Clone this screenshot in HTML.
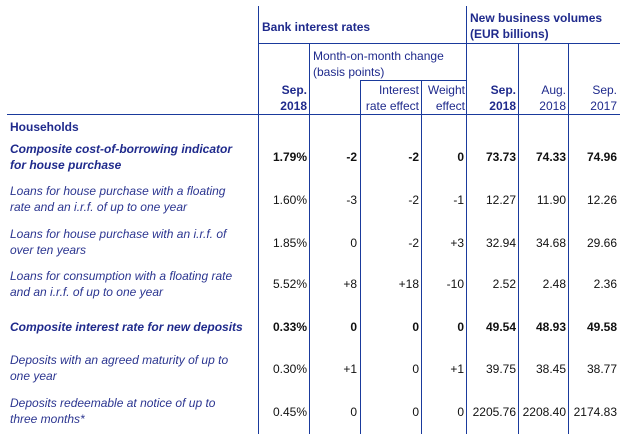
<!DOCTYPE html>
<html><head><style>
body{margin:0;width:620px;height:434px;background:#fff;position:relative;overflow:hidden;font-family:"Liberation Sans",Arial,sans-serif;font-size:12px}
.t{position:absolute;white-space:nowrap;line-height:16px}
.b{color:#1f2a8c}
.l{color:#2b3590;font-style:italic}
.h{color:#1f2a8c;font-weight:bold}
.n{position:absolute;text-align:right;color:#111;line-height:16px}
.v{position:absolute;top:6px;bottom:0;width:1px;background:#1a3a9c}
.hl{position:absolute;height:1px;background:#1a3a9c}
.r{text-align:right}
</style></head><body>
<div class="v" style="left:258px"></div>
<div class="v" style="left:309px;top:43px"></div>
<div class="v" style="left:360px;top:80px"></div>
<div class="v" style="left:421px;top:80px"></div>
<div class="v" style="left:466px"></div>
<div class="v" style="left:518px;top:43px"></div>
<div class="v" style="left:568px;top:43px"></div>
<div class="hl" style="left:258px;width:362px;top:43px"></div>
<div class="hl" style="left:360px;width:106px;top:80px"></div>
<div class="hl" style="left:7px;width:613px;top:114px"></div>

<div class="t h" style="left:262px;top:19px">Bank interest rates</div>
<div class="t h" style="left:470px;top:10px">New business volumes<br>(EUR billions)</div>
<div class="t b" style="left:313px;top:48px">Month-on-month change<br>(basis points)</div>
<div class="t h r" style="left:260px;width:47px;top:82px">Sep.<br>2018</div>
<div class="t b r" style="left:360px;width:59px;top:82px">Interest<br>rate effect</div>
<div class="t b r" style="left:421px;width:44px;top:82px">Weight<br>effect</div>
<div class="t h r" style="left:466px;width:50px;top:82px">Sep.<br>2018</div>
<div class="t b r" style="left:518px;width:48px;top:82px">Aug.<br>2018</div>
<div class="t b r" style="left:568px;width:49px;top:82px">Sep.<br>2017</div>

<div class="t h" style="left:10px;top:119px">Households</div>
<div class="t h" style="left:10px;top:141px;font-style:italic">Composite cost-of-borrowing indicator<br>for house purchase</div>
<div class="t l" style="left:10px;top:183px">Loans for house purchase with a floating<br>rate and an i.r.f. of up to one year</div>
<div class="t l" style="left:10px;top:226px">Loans for house purchase with an i.r.f. of<br>over ten years</div>
<div class="t l" style="left:10px;top:268px">Loans for consumption with a floating rate<br>and an i.r.f. of up to one year</div>
<div class="t h" style="left:10px;top:319px;font-style:italic">Composite interest rate for new deposits</div>
<div class="t l" style="left:10px;top:352px">Deposits with an agreed maturity of up to<br>one year</div>
<div class="t l" style="left:10px;top:395px">Deposits redeemable at notice of up to<br>three months*</div>

<div id="rows"></div>
<script>
var rows=[[149,1,"1.79%","-2","-2","0","73.73","74.33","74.96"],
[192,0,"1.60%","-3","-2","-1","12.27","11.90","12.26"],
[235,0,"1.85%","0","-2","+3","32.94","34.68","29.66"],
[276,0,"5.52%","+8","+18","-10","2.52","2.48","2.36"],
[319,1,"0.33%","0","0","0","49.54","48.93","49.58"],
[361,0,"0.30%","+1","0","+1","39.75","38.45","38.77"],
[404,0,"0.45%","0","0","0","2205.76","2208.40","2174.83"]];
var rights=[307,357,419,464,516,566,617];var h="";
rows.forEach(function(r){for(var i=0;i<7;i++){h+='<div class="n" style="left:'+(rights[i]-70)+'px;width:70px;top:'+r[0]+'px;'+(r[1]?'font-weight:bold':'')+'">'+r[i+2]+'</div>';}});
document.getElementById('rows').innerHTML=h;
</script>
</body></html>
